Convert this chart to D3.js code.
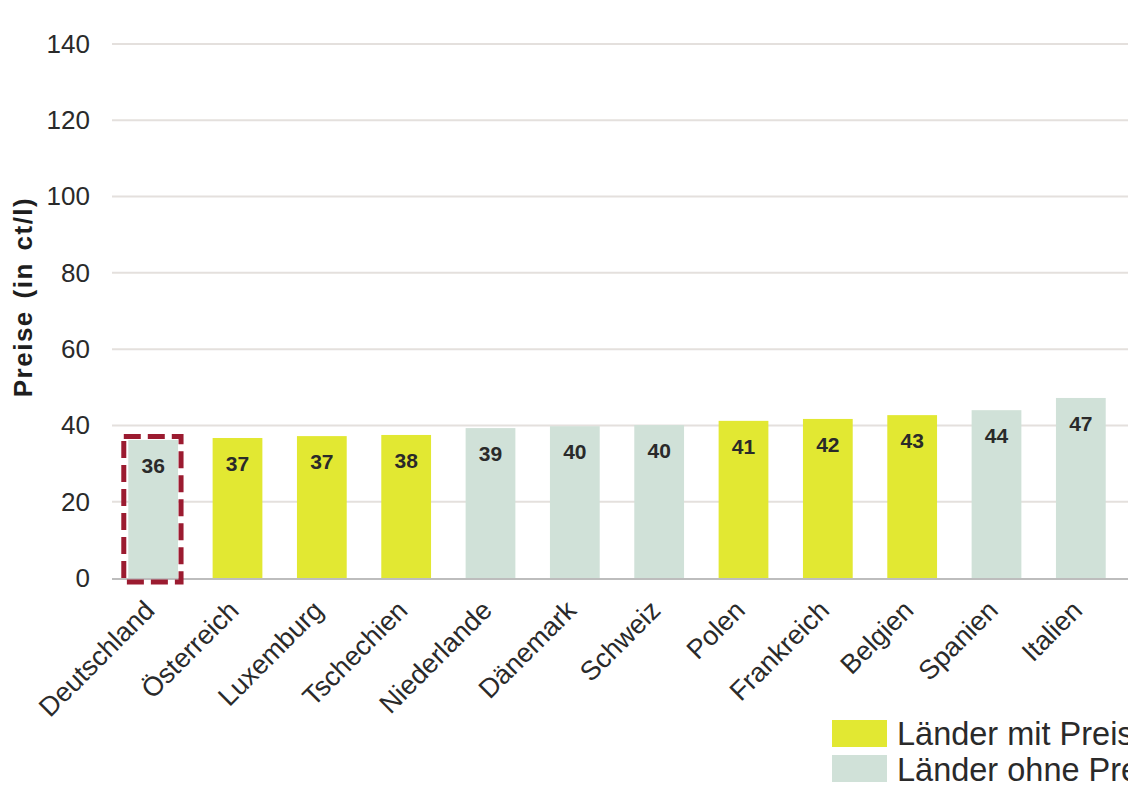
<!DOCTYPE html>
<html><head><meta charset="utf-8">
<script src="https://cdn.jsdelivr.net/npm/d3@7"></script>
<style>
html,body{margin:0;padding:0;background:#fff;overflow:hidden;}
svg{display:block;font-family:"Liberation Sans",Arial,sans-serif;}
</style></head><body>
<svg id="chart" width="1128" height="799"></svg>
<script>
const countries = ["Deutschland","Österreich","Luxemburg","Tschechien","Niederlande","Dänemark","Schweiz","Polen","Frankreich","Belgien","Spanien","Italien"];
const prices = [36.2, 36.7, 37.2, 37.5, 39.3, 39.8, 40.1, 41.2, 41.7, 42.7, 44.0, 47.2];
const labels = ["36","37","37","38","39","40","40","41","42","43","44","47"];
const withBinding = [false, true, true, true, false, false, false, true, true, true, false, false];
const yTicks = [0,20,40,60,80,100,120,140];
const legendLabels = ["Länder mit Preisbindung","Länder ohne Preisbindung"];
const highlight = "Deutschland";

const colYes = "#e2e832", colNo = "#d0e1d8";
const svg = d3.select("#chart");
const x = d3.scaleBand().domain(countries).range([111, 1123]).paddingInner(0.41).paddingOuter(0.205);
const y = d3.scaleLinear().domain([0,140]).range([578, 44]);

// gridlines
svg.append("g").selectAll("line").data(yTicks.filter(d=>d>0)).join("line")
  .attr("x1",112).attr("x2",1128).attr("y1",d=>y(d)).attr("y2",d=>y(d))
  .attr("stroke","#e4e0dd").attr("stroke-width",2);

// y axis labels
const yAxis = svg.append("g").attr("transform","translate(90,0)")
  .call(d3.axisLeft(y).tickValues(yTicks).tickSize(0).tickPadding(0));
yAxis.select(".domain").remove();
yAxis.selectAll("text").attr("font-size",26).attr("fill","#2a2a2a")
  .attr("font-family","Liberation Sans, Arial, sans-serif");

// bars
svg.append("g").selectAll("rect").data(countries).join("rect")
  .attr("x",d=>x(d)).attr("width",x.bandwidth())
  .attr("y",(d,i)=>y(prices[i])).attr("height",(d,i)=>y(0)-y(prices[i]))
  .attr("fill",(d,i)=>withBinding[i]?colYes:colNo);

// baseline
svg.append("line").attr("x1",112).attr("x2",1128).attr("y1",y(0)+1).attr("y2",y(0)+1)
  .attr("stroke","#bdbdbd").attr("stroke-width",2);

// value labels
svg.append("g").selectAll("text").data(countries).join("text")
  .attr("x",d=>x(d)+x.bandwidth()/2).attr("y",(d,i)=>y(prices[i])+33)
  .attr("text-anchor","middle").attr("font-size",21).attr("font-weight","bold")
  .attr("fill","#2a2a2a").text((d,i)=>labels[i]);

// highlight dashed box
const hi = countries.indexOf(highlight);
svg.append("rect")
  .attr("x",x(highlight)-4.5).attr("width",x.bandwidth()+7.5)
  .attr("y",y(prices[hi])-3.5).attr("height",y(0)-y(prices[hi])+7.5)
  .attr("fill","none").attr("stroke","#9b1b30").attr("stroke-width",5)
  .attr("stroke-dasharray","17,7");

// x labels
svg.append("g").selectAll("text").data(countries).join("text")
  .attr("transform",d=>`translate(${x(d)+x.bandwidth()/2+3},${612}) rotate(-45)`)
  .attr("text-anchor","end").attr("font-size",27).attr("fill","#2a2a2a").text(d=>d);

// y title
svg.append("text").attr("transform","translate(32,297) rotate(-90)")
  .attr("text-anchor","middle").attr("font-size",26).attr("font-weight","bold")
  .attr("letter-spacing",1.5).attr("word-spacing",3)
  .attr("fill","#1e1e1e").text("Preise (in ct/l)");

// legend
const lg = svg.append("g");
[colYes,colNo].forEach((c,i)=>{
  lg.append("rect").attr("x",832).attr("y",720+i*35).attr("width",55).attr("height",27).attr("fill",c);
  lg.append("text").attr("x",897).attr("y",745+i*36).attr("font-size",32.5).attr("fill","#2a2a2a").text(legendLabels[i]);
});
</script></body></html>
